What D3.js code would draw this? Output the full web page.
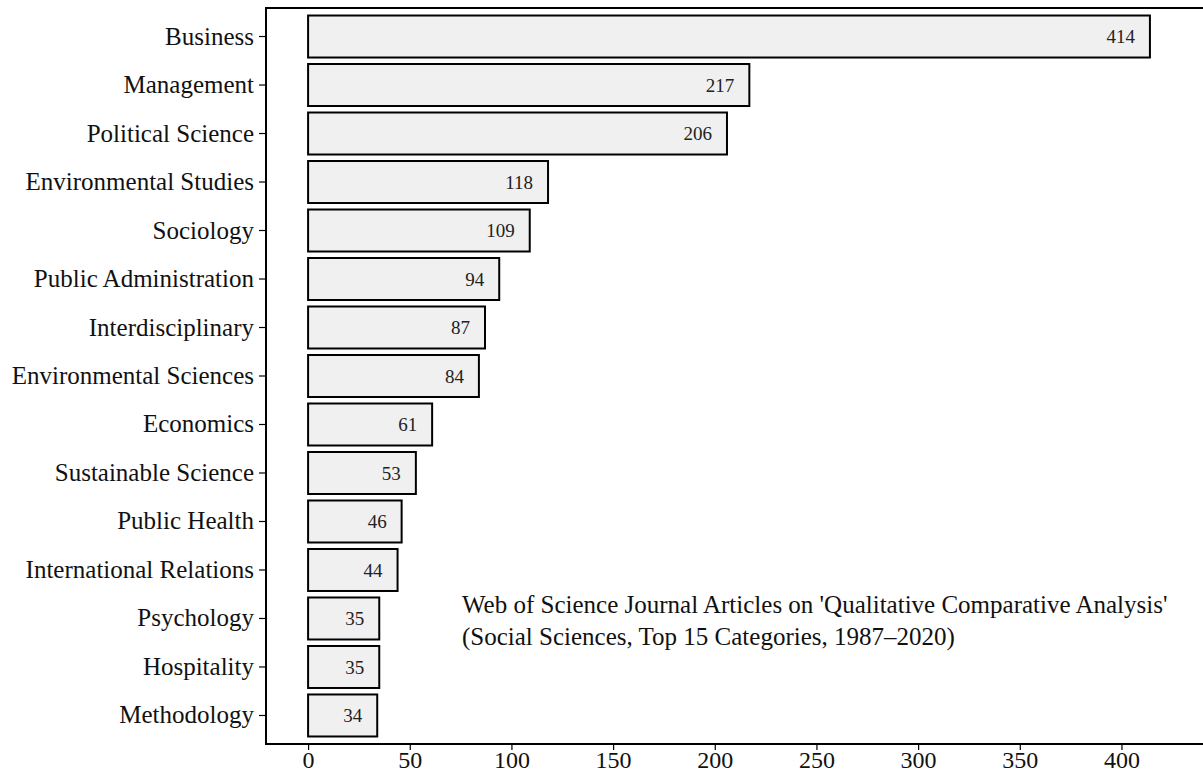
<!DOCTYPE html>
<html><head><meta charset="utf-8">
<script src="https://cdn.jsdelivr.net/npm/d3@7"></script>
<style>body{margin:0;background:#fff}svg{display:block}text{font-family:"Liberation Serif","Times New Roman",serif}</style>
</head><body><svg id="c" width="1203" height="773"></svg>
<script>
const categories = ["Business","Management","Political Science","Environmental Studies","Sociology","Public Administration","Interdisciplinary","Environmental Sciences","Economics","Sustainable Science","Public Health","International Relations","Psychology","Hospitality","Methodology"];
const counts = [414,217,206,118,109,94,87,84,61,53,46,44,35,35,34];
const xTicks = [0,50,100,150,200,250,300,350,400];
const noteLines = ["Web of Science Journal Articles on 'Qualitative Comparative Analysis'","(Social Sciences, Top 15 Categories, 1987\u20132020)"];

const svg = d3.select("#c");
const L = 266, T = 8, B = 744, R = 1203;
const x = d3.scaleLinear().domain([-20.7, 440.1]).range([L, R]);
const y = d3.scaleBand().domain(categories).range([T, B]).paddingInner(0.134).paddingOuter(0.155);

const data = categories.map((c,i)=>({c, v: counts[i]}));

svg.append("g").selectAll("rect").data(data).join("rect")
  .attr("x", x(0)).attr("y", d=>y(d.c))
  .attr("width", d=>x(d.v)-x(0)).attr("height", y.bandwidth())
  .attr("fill", "#f0f0f0").attr("stroke", "#000").attr("stroke-width", 2);

svg.append("g").selectAll("text").data(data).join("text")
  .attr("x", d=>x(d.v)-15).attr("y", d=>y(d.c)+y.bandwidth()/2)
  .attr("text-anchor","end").attr("dy","0.35em")
  .attr("font-size", 19).attr("fill", "#222").text(d=>d.v);

// y axis
const ya = svg.append("g").attr("transform", `translate(${L},0)`)
  .call(d3.axisLeft(y).tickSize(7).tickPadding(5));
ya.select(".domain").remove();
ya.selectAll("text").attr("font-size", 25).attr("fill", "#111").style("font-family","Liberation Serif");
ya.selectAll("line").attr("stroke","#000").attr("stroke-width",1.2);

// x axis
const xa = svg.append("g").attr("transform", `translate(0,${B})`)
  .call(d3.axisBottom(x).tickValues(xTicks).tickSize(6).tickPadding(1).tickFormat(d3.format("d")));
xa.select(".domain").remove();
xa.selectAll("text").attr("font-size", 24).attr("fill", "#111").style("font-family","Liberation Serif");
xa.selectAll("line").attr("stroke","#000").attr("stroke-width",1.2);

// frame
const fr = svg.append("g").attr("stroke","#000").attr("stroke-width",2);
fr.append("line").attr("x1",L).attr("x2",L).attr("y1",T-1).attr("y2",B+1);
fr.append("line").attr("x1",L-1).attr("x2",R).attr("y1",T).attr("y2",T);
fr.append("line").attr("x1",L-1).attr("x2",R).attr("y1",B).attr("y2",B);

// note
svg.append("g").selectAll("text").data(noteLines).join("text")
  .attr("x", 462).attr("y", (d,i)=>613+i*32)
  .attr("font-size", 25).attr("fill", "#111").text(d=>d);
</script></body></html>
